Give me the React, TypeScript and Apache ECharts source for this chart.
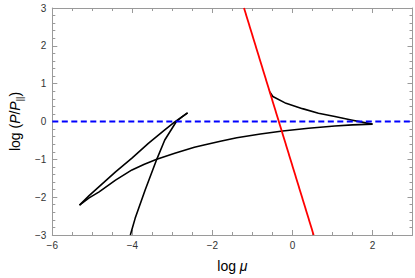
import React, { useEffect, useRef } from "react";
import * as echarts from "echarts";

// Steep branch (from bottom up to the tip)
const steepX = [-4.05, -3.93, -3.68, -3.39, -3.19, -2.9, -2.75, -2.62];
const steepY = [-3.0, -2.56, -1.81, -1.0, -0.49, 0.0, 0.13, 0.23];
// Upper-left branch (tip to left cusp)
const upperX = [-2.62, -2.94, -3.19, -3.6, -4.01, -4.42, -4.83, -5.08, -5.32];
const upperY = [0.23, -0.01, -0.22, -0.58, -0.97, -1.33, -1.72, -1.96, -2.21];
// Long lower branch (left cusp to right cusp)
const lowerX = [-5.32, -5.08, -4.83, -4.42, -4.01, -3.7, -3.39, -2.94, -2.45, -2.21, -1.8, -1.39, -0.8, -0.245, 0.4, 1.06, 1.5, 2.0];
const lowerY = [-2.21, -2.02, -1.86, -1.55, -1.28, -1.13, -1.0, -0.84, -0.68, -0.62, -0.52, -0.43, -0.33, -0.25, -0.18, -0.12, -0.09, -0.07];
// Right upper branch (right cusp back to red line)
const rightX = [2.0, 1.8, 1.47, 1.06, 0.65, 0.25, -0.16, -0.49, -0.57];
const rightY = [-0.07, -0.03, 0.04, 0.13, 0.22, 0.34, 0.48, 0.66, 0.79];
// Red straight line
const redX = [-1.21, 0.53];
const redY = [3, -3];
// Dashed reference level
const refX = [-6, 3];
const refY = [0, 0];

const xTicks = { min: -6, max: 3, interval: 2 };
const yTicks = { min: -3, max: 3, interval: 1 };

const pairs = (xs: number[], ys: number[]) => xs.map((x, i) => [x, ys[i]]);

const FONT = "Liberation Sans";
const frameColor = "#9a9a9a";
const minus = (v: number) => String(v).replace("-", "\u2212");

export default function App() {
  const ref = useRef<HTMLDivElement>(null);
  useEffect(() => {
    if (!ref.current) return;
    const chart = echarts.init(ref.current, undefined, { renderer: "svg" });
    const axisLine = { show: true, onZero: false, lineStyle: { color: frameColor, width: 1 } };
    const axisTick = { show: true, inside: true, length: 5, lineStyle: { color: frameColor } };
    const minorTick = { show: true, length: 3, lineStyle: { color: frameColor } };
    const lbl = {
      color: "#333",
      fontFamily: FONT,
      fontSize: 10,
      formatter: (v: number) => minus(v),
    };
    const xBase = {
      type: "value" as const,
      min: xTicks.min,
      max: xTicks.max,
      interval: xTicks.interval,
      axisLine,
      axisTick,
      minorTick: { ...minorTick, splitNumber: 4 },
      splitLine: { show: false },
    };
    const yBase = {
      type: "value" as const,
      min: yTicks.min,
      max: yTicks.max,
      interval: yTicks.interval,
      axisLine,
      axisTick,
      minorTick: { ...minorTick, splitNumber: 5 },
      splitLine: { show: false },
    };
    const blackLine = (name: string, xs: number[], ys: number[]) => ({
      name,
      type: "line",
      data: pairs(xs, ys),
      showSymbol: false,
      lineStyle: { color: "#000", width: 1.6, join: "round" },
      xAxisIndex: 0,
      yAxisIndex: 0,
    });
    chart.setOption({
      animation: false,
      grid: { left: 45.5, right: 2.5, top: 8, bottom: 43 },
      xAxis: [
        {
          ...xBase,
          position: "bottom",
          axisLabel: { ...lbl, margin: 5, showMaxLabel: false },
          name: "{n|log }{i|\u03bc}",
          nameLocation: "middle",
          nameGap: 24,
          nameTextStyle: {
            rich: {
              n: { fontFamily: FONT, fontSize: 14, color: "#000" },
              i: { fontFamily: FONT, fontSize: 14, fontStyle: "italic", color: "#000" },
            },
          },
        },
        { ...xBase, position: "top", axisLabel: { show: false } },
      ],
      yAxis: [
        {
          ...yBase,
          position: "left",
          axisLabel: { ...lbl, margin: 6 },
          name: "{n|log (}{i|P}{n|/}{i|P}{s|||}{n|)}",
          nameLocation: "middle",
          nameGap: 24,
          nameRotate: 90,
          nameTextStyle: {
            rich: {
              n: { fontFamily: FONT, fontSize: 14, color: "#000", lineHeight: 18 },
              i: { fontFamily: FONT, fontSize: 14, fontStyle: "italic", color: "#000", lineHeight: 18 },
              s: { fontFamily: FONT, fontSize: 9, color: "#000", verticalAlign: "bottom", lineHeight: 18 },
            },
          },
        },
        { ...yBase, position: "right", axisLabel: { show: false } },
      ],
      series: [
        blackLine("steep", steepX, steepY),
        blackLine("upper", upperX, upperY),
        blackLine("lower", lowerX, lowerY),
        blackLine("right", rightX, rightY),
        {
          name: "red",
          type: "line",
          data: pairs(redX, redY),
          showSymbol: false,
          lineStyle: { color: "#ff0000", width: 1.8 },
        },
        {
          name: "ref",
          type: "line",
          data: pairs(refX, refY),
          showSymbol: false,
          lineStyle: { color: "#0000ff", width: 2, type: [6, 3.5] },
        },
      ],
    });
    return () => chart.dispose();
  }, []);
  return (
    <div
      ref={ref}
      style={{ position: "fixed", left: 0, top: 0, width: 415, height: 278, background: "#fff" }}
    />
  );
}
